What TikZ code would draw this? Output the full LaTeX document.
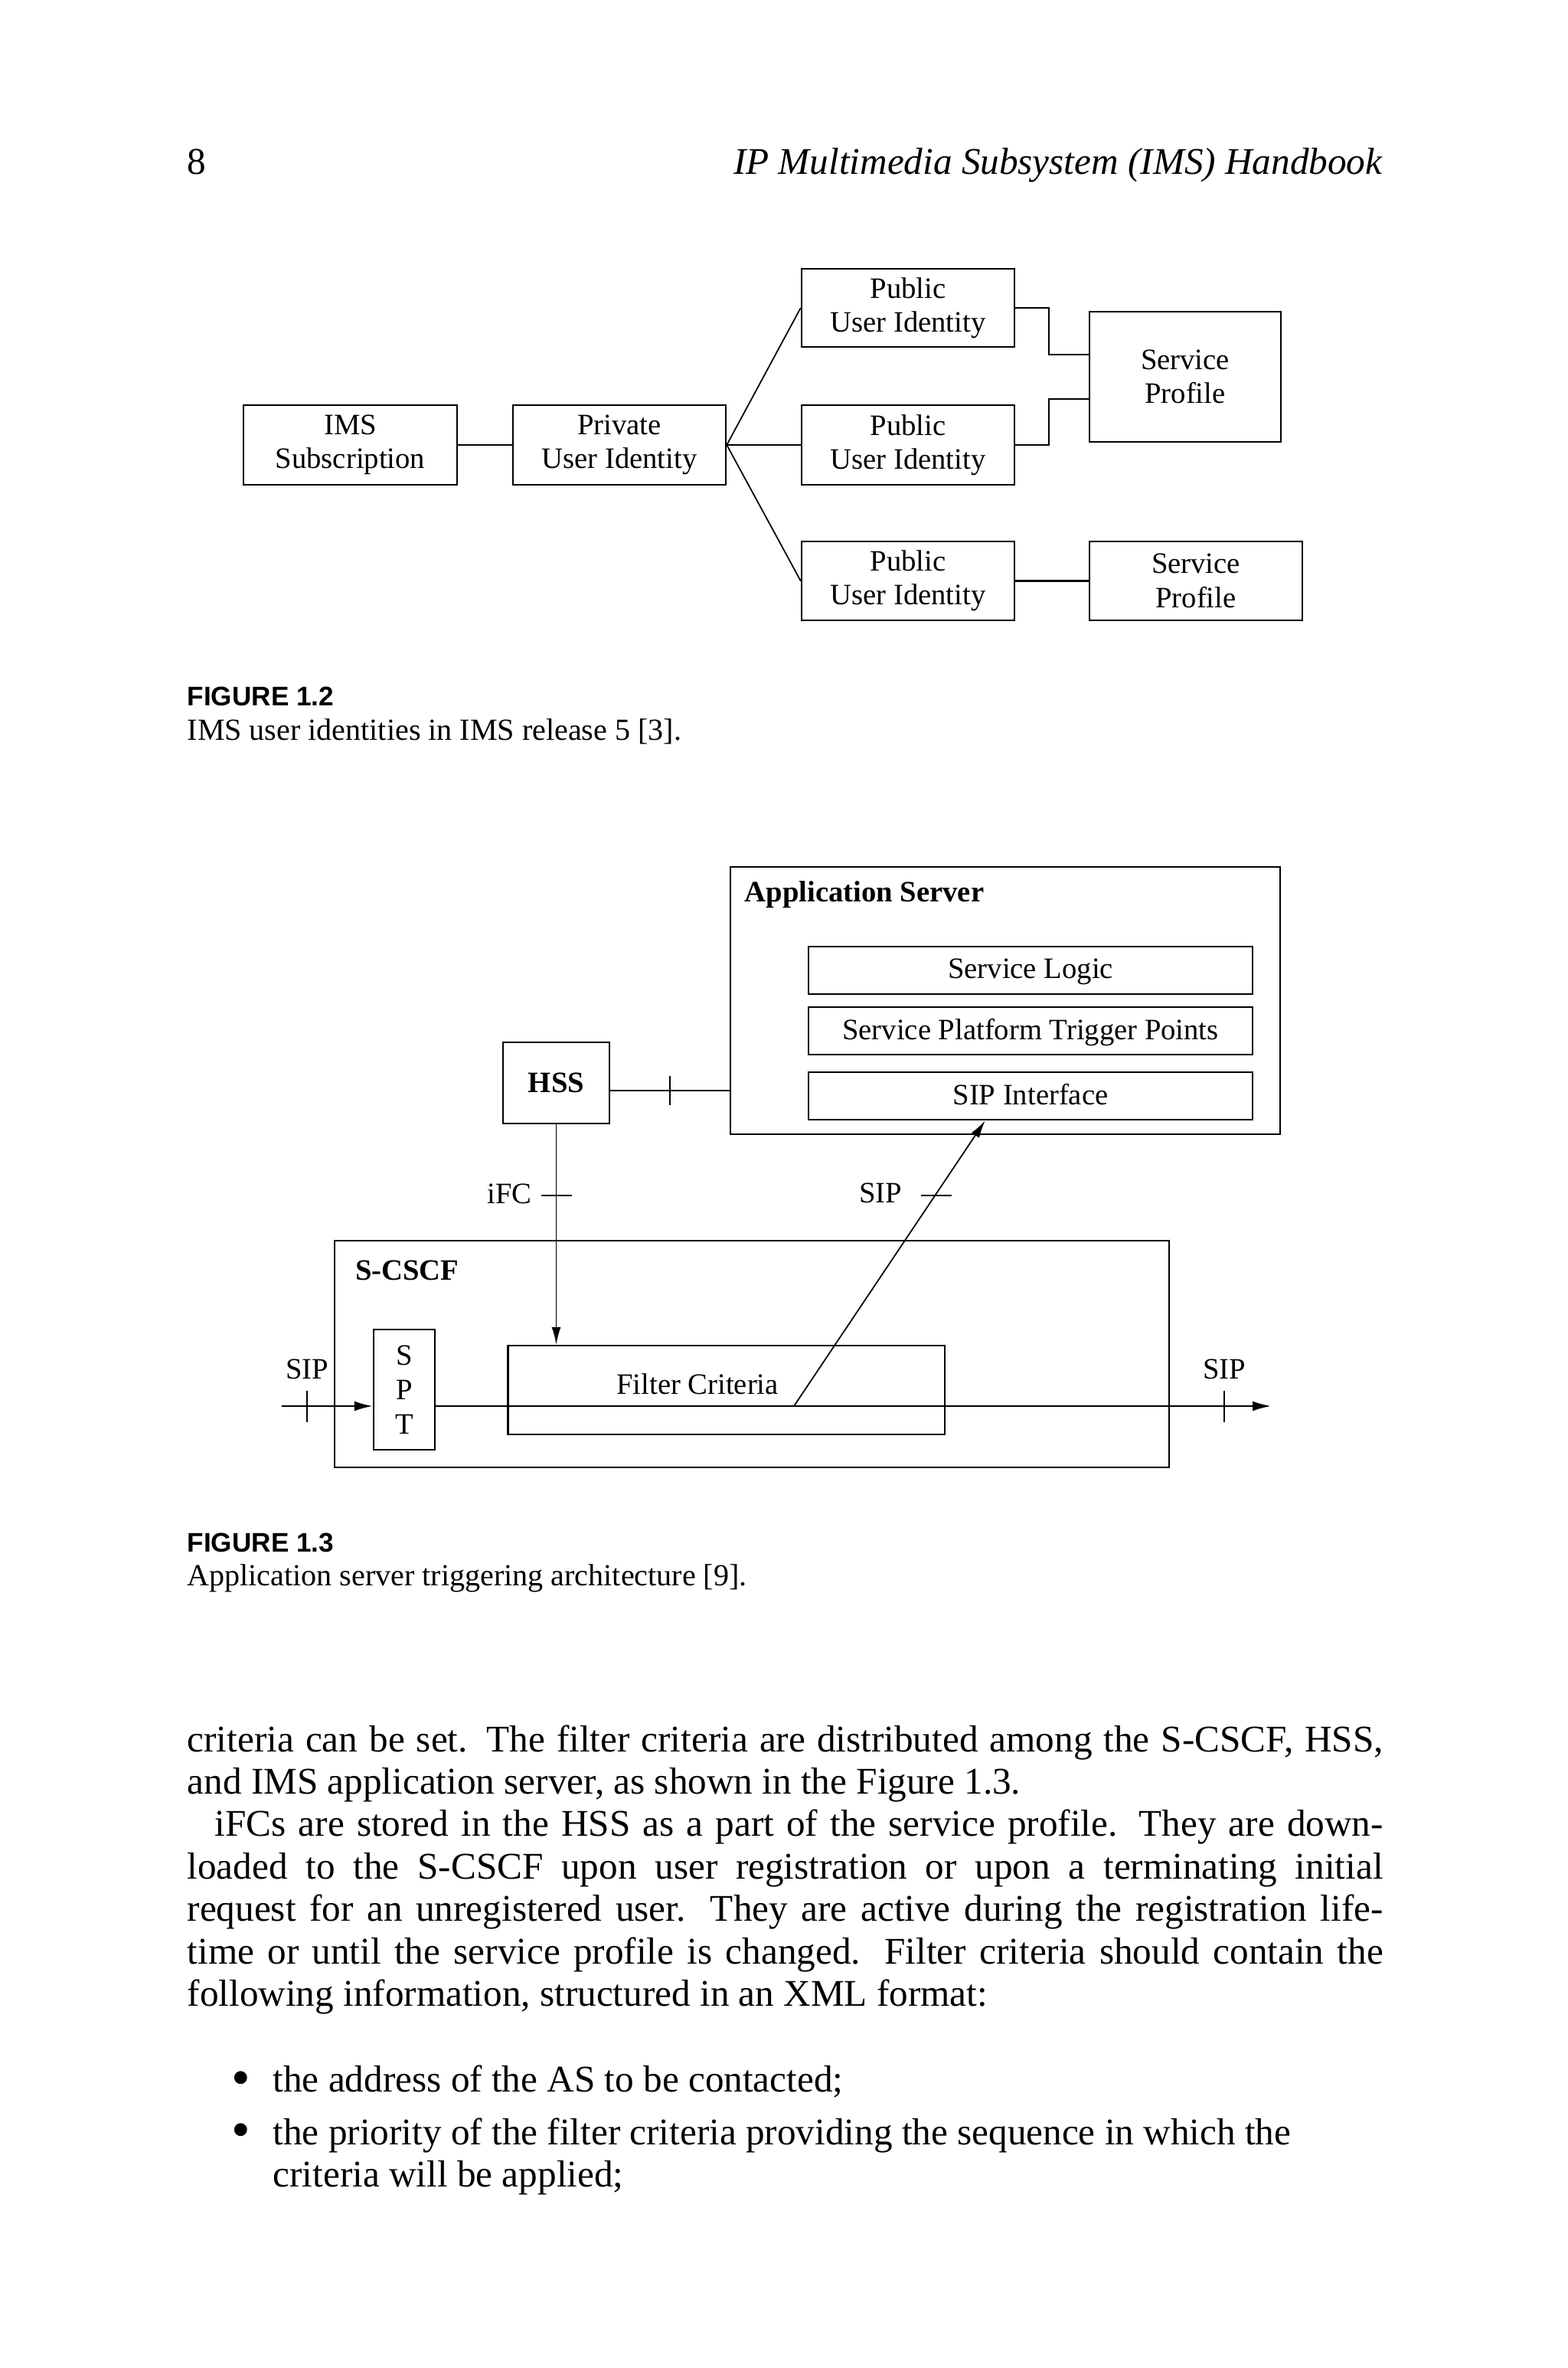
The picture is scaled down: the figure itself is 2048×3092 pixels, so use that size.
\documentclass[tikz,border=0pt]{standalone}
\usepackage{fontspec}
\setmainfont{Liberation Serif}
\newfontfamily\capfont{Liberation Sans}
\usetikzlibrary{arrows.meta,calc}
\begin{document}
\begin{tikzpicture}[x=0.1mm,y=-0.1mm,
  box/.style={draw,line width=0.7pt,inner sep=0pt,align=center},
  fa/.style={font=\fontsize{11}{12.6}\selectfont},
  fb/.style={font=\fontsize{11}{12.8}\selectfont},
  fbb/.style={font=\bfseries\fontsize{11}{12.8}\selectfont},
  conn/.style={line width=0.6pt},
  thin/.style={line width=0.5pt},
  mainl/.style={line width=0.65pt},
  tickl/.style={line width=0.5pt},
  tip/.style={-{Latex[length=2.4mm,width=1.3mm]}},
  bodyl/.style={anchor=base west,inner sep=0pt,font=\fontsize{14}{16}\selectfont},
  capt/.style={anchor=base west,inner sep=0pt,font=\capfont\bfseries\fontsize{10}{11}\selectfont},
  capl/.style={anchor=base west,inner sep=0pt,font=\fontsize{11.4}{13}\selectfont},
  lbl/.style={inner sep=0pt,font=\fontsize{11}{12.8}\selectfont},
  bul/.style={inner sep=0pt,font=\fontsize{20}{20}\selectfont,text height=1.3mm,text depth=0pt}]
\useasboundingbox (0,0) rectangle (2048,3092);
\fill[white] (0,0) rectangle (2048,3092);

% header
\node[bodyl] (pgno) at (244,228) {8};
\node[anchor=base east,inner sep=0pt,font=\itshape\fontsize{14}{16}\selectfont] (title) at (1806,228) {IP Multimedia Subsystem (IMS) Handbook};

% ---------- Figure 1.2 ----------
\node[box,fa,minimum width=27.9mm,minimum height=10.4mm] (ims) at (457.5,581) {IMS\\Subscription};
\node[box,fa,minimum width=27.8mm,minimum height=10.4mm] (priv) at (809,581) {Private\\User Identity};
\node[box,fa,minimum width=27.8mm,minimum height=10.2mm] (pub1) at (1186,402) {Public\\User Identity};
\node[box,fa,minimum width=27.8mm,minimum height=10.4mm] (pub2) at (1186,581) {Public\\User Identity};
\node[box,fa,minimum width=27.8mm,minimum height=10.3mm] (pub3) at (1186,758.5) {Public\\User Identity};
\node[box,fa,minimum width=25.0mm,minimum height=17.0mm] (sp1) at (1548,492) {Service\\Profile};
\node[box,fa,minimum width=27.8mm,minimum height=10.3mm] (sp2) at (1562,758.5) {Service\\Profile};

\coordinate (sp1a) at ($(sp1.north west)!0.333!(sp1.south west)$);
\coordinate (sp1b) at ($(sp1.north west)!0.667!(sp1.south west)$);

\draw[conn] (ims) -- (priv);
\draw[thin] (priv.east) -- (pub1.west);
\draw[conn] (priv.east) -- (pub2.west);
\draw[thin] (priv.east) -- (pub3.west);
\draw[conn] (pub1.east) -- ++(4.4mm,0) |- (sp1a);
\draw[conn] (pub2.east) -- ++(4.4mm,0) |- (sp1b);
\draw[conn] (pub3) -- (sp2);

\node[capt] (cap2) at (244,921) {FIGURE 1.2};
\node[capl] (cap2t) at (244,966.7) {IMS user identities in IMS release 5 [3].};

% ---------- Figure 1.3 ----------
\node[draw,line width=0.7pt,minimum width=71.8mm,minimum height=34.9mm,inner sep=0pt] (as) at (1313,1306.5) {};
\node[anchor=base west,inner sep=0pt,fbb] (aslbl) at (972,1177) {Application Server};
\node[box,fb,minimum width=58.0mm,minimum height=6.2mm,text depth=0.5mm] (sl) at (1346,1267) {Service Logic};
\node[box,fb,minimum width=58.0mm,minimum height=6.2mm,text depth=0.5mm] (sptp) at (1346,1346) {Service Platform Trigger Points};
\node[box,fb,minimum width=58.0mm,minimum height=6.2mm,text depth=0.5mm] (sipi) at (1346,1431) {SIP Interface};
\node[box,fbb,minimum width=13.9mm,minimum height=10.6mm] (hss) at (726.5,1414) {HSS};

\node[draw,line width=0.7pt,minimum width=109.0mm,minimum height=29.6mm,inner sep=0pt] (scscf) at (982,1768) {};
\node[anchor=base west,inner sep=0pt,fbb] (scscflbl) at (463.5,1671.7) {S-CSCF};
\node[box,fb,minimum width=8.0mm,minimum height=15.7mm] (spt) at (528,1814.5) {S\\P\\T};
\node[draw,line width=0.7pt,minimum width=57.05mm,minimum height=11.6mm,inner sep=0pt] (fc) at (948.75,1815) {};
\node[lbl,anchor=base] (fclbl) at (911,1820) {Filter Criteria};

% HSS -- AS
\coordinate (h1) at ($(hss.east)+(0,-1mm)$);
\draw[conn] (h1) -- coordinate[pos=0.5] (hm) (h1 -| as.west);
\draw[tickl] ($(hm)+(0,1.9mm)$) -- ($(hm)+(0,-1.9mm)$);

% iFC
\coordinate (ylev) at (0,1561);
\draw[thin,-{Latex[length=2.3mm,width=1.2mm]}] (hss.south) -- (hss.south |- fc.north);
\coordinate (ifct) at (hss.south |- ylev);
\draw[tickl] ($(ifct)+(-2mm,0)$) -- ($(ifct)+(2mm,0)$);
\node[lbl,anchor=base east] (ifclbl) at (695,1571.7) {iFC};

% SIP main line
\coordinate (sipin) at (368,1836);
\coordinate (sipout) at (1660,1836);
\draw[mainl,tip] (sipin) -- (sipin -| spt.west);
\draw[mainl,tip] (sipin -| spt.east) -- (sipout);
\coordinate (tk1) at (401,1836);
\coordinate (tk2) at (1599,1836);
\draw[tickl] ($(tk1)+(0,2.05mm)$) -- ($(tk1)+(0,-2.05mm)$);
\draw[tickl] ($(tk2)+(0,2.05mm)$) -- ($(tk2)+(0,-2.05mm)$);
\node[lbl,anchor=base] (sipl) at (401,1800) {SIP};
\node[lbl,anchor=base] (sipr) at (1599,1800) {SIP};

% diagonal SIP to AS
\coordinate (dstart) at (1037,1836);
\draw[thin,-{Latex[length=2.3mm,width=1.2mm]}] (dstart) -- ($(sipi.south west)+(23.2mm,0)$);
\coordinate (st) at (1223,1561);
\draw[tickl] ($(st)+(-2mm,0)$) -- ($(st)+(2mm,0)$);
\node[lbl,anchor=base east] (sipm) at (1179,1570) {SIP};

\node[capt] (cap3) at (244,2026.7) {FIGURE 1.3};
\node[capl] (cap3t) at (244,2070) {Application server triggering architecture [9].};

% ---------- body text ----------
\node[bodyl] (l1) at (244,2287) {\makebox[156.2mm][s]{criteria can be set. The filter criteria are distributed among the S-CSCF, HSS,}};
\node[bodyl] (l2) at (244,2342.4) {and IMS application server, as shown in the Figure 1.3.};
\node[bodyl] (l3) at (280,2397.8) {\makebox[152.6mm][s]{iFCs are stored in the HSS as a part of the service profile. They are down-}};
\node[bodyl] (l4) at (244,2453.2) {\makebox[156.2mm][s]{loaded to the S-CSCF upon user registration or upon a terminating initial}};
\node[bodyl] (l5) at (244,2508.6) {\makebox[156.2mm][s]{request for an unregistered user. They are active during the registration life-}};
\node[bodyl] (l6) at (244,2564) {\makebox[156.2mm][s]{time or until the service profile is changed. Filter criteria should contain the}};
\node[bodyl] (l7) at (244,2619.4) {following information, structured in an XML format:};

\node[bul,anchor=base] (b1) at (315,2736) {\textbullet};
\node[bodyl] (bt1) at (356,2731.7) {the address of the AS to be contacted;};
\node[bul,anchor=base] (b2) at (315,2804) {\textbullet};
\node[bodyl] (bt2) at (356,2800) {the priority of the filter criteria providing the sequence in which the};
\node[bodyl] (bt3) at (356,2855) {criteria will be applied;};
\end{tikzpicture}
\end{document}
